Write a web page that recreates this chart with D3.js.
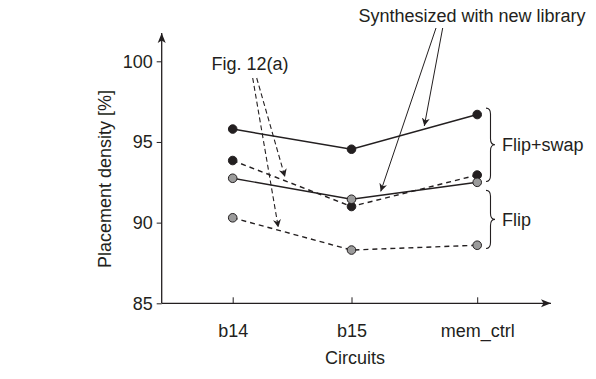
<!DOCTYPE html>
<html>
<head>
<meta charset="utf-8">
<script src="https://cdn.jsdelivr.net/npm/d3@7"></script>
<style>
  body { margin: 0; background: #fff; }
  text { font-family: "Liberation Sans", Arial, sans-serif; fill: #231f20; }
</style>
</head>
<body>
<div id="vis"></div>
<script>
// data
const circuits = ["b14", "b15", "mem_ctrl"];
const yTicks = [85, 90, 95, 100];
const swapNewLib = [95.8, 94.55, 96.7];   // Flip+swap, synthesized with new library
const swapFig12a = [93.85, 91.0, 92.95];  // Flip+swap, Fig. 12(a)
const flipNewLib = [92.75, 91.45, 92.5];  // Flip, synthesized with new library
const flipFig12a = [90.3, 88.3, 88.6];    // Flip, Fig. 12(a)
const braceRanges = [[97.1, 92.55, "Flip+swap"], [92.0, 88.4, "Flip"]];

const W = 596, H = 379;
const ink = "#231f20";
const fs = "18px";

const svg = d3.select("#vis").append("svg")
  .attr("width", W)
  .attr("height", H);

svg.append("defs").append("marker")
  .attr("id", "arr")
  .attr("viewBox", "0 0 10 10")
  .attr("refX", 10).attr("refY", 5)
  .attr("markerWidth", 8).attr("markerHeight", 8)
  .attr("markerUnits", "userSpaceOnUse")
  .attr("orient", "auto")
  .append("path")
  .attr("d", "M0,0 L10,5 L0,10 L3,5 Z")
  .attr("fill", ink);

svg.select("defs").append("marker")
  .attr("id", "axarr")
  .attr("viewBox", "0 0 10 10")
  .attr("refX", 10).attr("refY", 5)
  .attr("markerWidth", 10).attr("markerHeight", 10)
  .attr("markerUnits", "userSpaceOnUse")
  .attr("orient", "auto")
  .append("path")
  .attr("d", "M0,1 L10,5 L0,9 L2.5,5 Z")
  .attr("fill", ink);

const x0 = 161.7, yBase = 303.3;

const x = d3.scaleOrdinal()
  .domain(circuits)
  .range([232.7, 351.5, 477.2]);

const y = d3.scaleLinear()
  .domain([85, 100])
  .range([yBase, 61.3]);

// axes lines with arrows
svg.append("line")
  .attr("x1", x0).attr("y1", yBase)
  .attr("x2", x0).attr("y2", 33)
  .attr("stroke", ink).attr("stroke-width", 1.3)
  .attr("marker-end", "url(#axarr)");

svg.append("line")
  .attr("x1", x0).attr("y1", yBase)
  .attr("x2", 551).attr("y2", yBase)
  .attr("stroke", ink).attr("stroke-width", 1.3)
  .attr("marker-end", "url(#axarr)");

const yAxis = svg.append("g")
  .attr("transform", `translate(${x0},0)`)
  .call(d3.axisLeft(y).tickValues(yTicks).tickSize(5).tickPadding(4));
yAxis.select(".domain").remove();
yAxis.selectAll("line").attr("stroke", ink);
yAxis.selectAll("text")
  .attr("font-size", fs)
  .attr("font-family", "Liberation Sans, Arial, sans-serif")
  .attr("fill", ink);

const xAxis = svg.append("g")
  .attr("transform", `translate(0,${yBase})`)
  .call(d3.axisBottom(x).tickSize(-6).tickPadding(21));
xAxis.select(".domain").remove();
xAxis.selectAll("line").attr("stroke", ink);
xAxis.selectAll("text")
  .attr("font-size", fs)
  .attr("font-family", "Liberation Sans, Arial, sans-serif")
  .attr("fill", ink);

// axis titles
svg.append("text")
  .attr("x", 355)
  .attr("y", 364)
  .attr("text-anchor", "middle")
  .attr("font-size", fs)
  .text("Circuits");

svg.append("text")
  .attr("transform", "rotate(-90)")
  .attr("x", -179)
  .attr("y", 111)
  .attr("text-anchor", "middle")
  .attr("font-size", fs)
  .text("Placement density [%]");

// series
const series = [
  { vals: flipFig12a, dash: "5,4", fill: "#9b9b9b" },
  { vals: swapFig12a, dash: "5,4", fill: ink },
  { vals: flipNewLib, dash: null, fill: "#9b9b9b" },
  { vals: swapNewLib, dash: null, fill: ink }
];

const line = d3.line()
  .x((d, i) => x(circuits[i]))
  .y(d => y(d));

series.forEach(s => {
  svg.append("path")
    .attr("d", line(s.vals))
    .attr("fill", "none")
    .attr("stroke", ink)
    .attr("stroke-width", 1.4)
    .attr("stroke-dasharray", s.dash);
});

series.forEach(s => {
  svg.append("g").selectAll("circle")
    .data(s.vals)
    .enter()
    .append("circle")
    .attr("cx", (d, i) => x(circuits[i]))
    .attr("cy", d => y(d))
    .attr("r", 4.3)
    .attr("fill", s.fill)
    .attr("stroke", ink)
    .attr("stroke-width", 1);
});

// annotations
svg.append("text")
  .attr("x", 472)
  .attr("y", 22)
  .attr("text-anchor", "middle")
  .attr("font-size", fs)
  .text("Synthesized with new library");

[[436, 28, 380.7, 191.5], [442.7, 28, 424.3, 126]].forEach(a => {
  svg.append("line")
    .attr("x1", a[0]).attr("y1", a[1])
    .attr("x2", a[2]).attr("y2", a[3])
    .attr("stroke", ink).attr("stroke-width", 1)
    .attr("marker-end", "url(#arr)");
});

svg.append("text")
  .attr("x", 250)
  .attr("y", 70)
  .attr("text-anchor", "middle")
  .attr("font-size", fs)
  .text("Fig. 12(a)");

[[252.7, 78, 278.3, 227.5], [256.7, 78, 285, 177]].forEach(a => {
  svg.append("line")
    .attr("x1", a[0]).attr("y1", a[1])
    .attr("x2", a[2]).attr("y2", a[3])
    .attr("stroke", ink).attr("stroke-width", 1.1)
    .attr("stroke-dasharray", "5,3")
    .attr("marker-end", "url(#arr)");
});

// braces
function brace(bx, y0, y1, w) {
  const ym = (y0 + y1) / 2, h = w / 2, r = 6;
  return `M${bx},${y0} Q${bx + h},${y0} ${bx + h},${y0 + r} L${bx + h},${ym - r} ` +
    `Q${bx + h},${ym} ${bx + w},${ym} Q${bx + h},${ym} ${bx + h},${ym + r} ` +
    `L${bx + h},${y1 - r} Q${bx + h},${y1} ${bx},${y1}`;
}

braceRanges.forEach(b => {
  const t = y(b[0]), bt = y(b[1]);
  svg.append("path")
    .attr("d", brace(486, t, bt, 9))
    .attr("fill", "none")
    .attr("stroke", ink)
    .attr("stroke-width", 1.1);
  svg.append("text")
    .attr("x", 502)
    .attr("y", (t + bt) / 2)
    .attr("dy", "0.35em")
    .attr("font-size", fs)
    .text(b[2]);
});
</script>
</body>
</html>
